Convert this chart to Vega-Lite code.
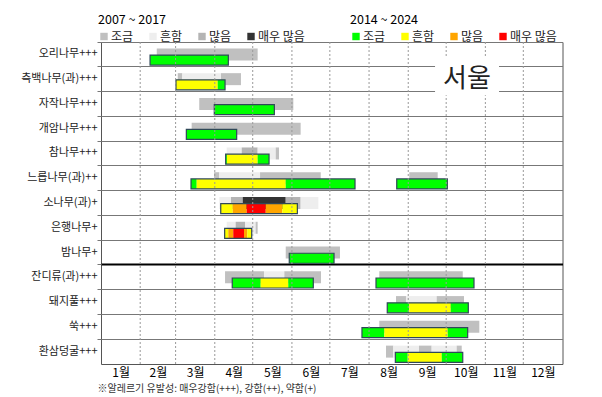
{
  "$schema": "https://vega.github.io/schema/vega-lite/v6.json",
  "autosize": {"type": "none"},
  "padding": {"left": 101, "top": 42, "right": 39.5, "bottom": 33},
  "width": 461.5,
  "height": 322,
  "background": "white",
  "config": {"font": "Noto Sans CJK KR", "view": {"stroke": "#555555", "strokeWidth": 1}},
  "datasets": {
    "old": [
      {"species": "오리나무+++", "level": "조금", "start": 44.1, "end": 123.9},
      {"species": "측백나무(과)+++", "level": "조금", "start": 60.7, "end": 64.3},
      {"species": "측백나무(과)+++", "level": "흔함", "start": 64.3, "end": 94.9},
      {"species": "측백나무(과)+++", "level": "조금", "start": 94.9, "end": 110.7},
      {"species": "자작나무+++", "level": "조금", "start": 77.7, "end": 152.1},
      {"species": "개암나무+++", "level": "조금", "start": 71.7, "end": 157.9},
      {"species": "참나무+++", "level": "흔함", "start": 99.4, "end": 111.3},
      {"species": "참나무+++", "level": "많음", "start": 111.3, "end": 123.9},
      {"species": "참나무+++", "level": "흔함", "start": 123.9, "end": 138.2},
      {"species": "참나무+++", "level": "조금", "start": 138.2, "end": 140.8},
      {"species": "느릅나무(과)++", "level": "조금", "start": 89.4, "end": 93.6},
      {"species": "느릅나무(과)++", "level": "흔함", "start": 93.6, "end": 125.8},
      {"species": "느릅나무(과)++", "level": "조금", "start": 125.8, "end": 173.8},
      {"species": "느릅나무(과)++", "level": "조금", "start": 243.8, "end": 266.3},
      {"species": "소나무(과)+", "level": "흔함", "start": 93.6, "end": 102.8},
      {"species": "소나무(과)+", "level": "많음", "start": 102.8, "end": 112.1},
      {"species": "소나무(과)+", "level": "매우 많음", "start": 112.1, "end": 146.1},
      {"species": "소나무(과)+", "level": "많음", "start": 146.1, "end": 157.9},
      {"species": "소나무(과)+", "level": "흔함", "start": 157.9, "end": 171.9},
      {"species": "은행나무+", "level": "흔함", "start": 99.4, "end": 106.5},
      {"species": "은행나무+", "level": "많음", "start": 106.5, "end": 113.9},
      {"species": "은행나무+", "level": "흔함", "start": 113.9, "end": 122.3},
      {"species": "은행나무+", "level": "조금", "start": 122.3, "end": 123.9},
      {"species": "밤나무+", "level": "조금", "start": 146.1, "end": 189.0},
      {"species": "잔디류(과)+++", "level": "조금", "start": 98.1, "end": 128.9},
      {"species": "잔디류(과)+++", "level": "흔함", "start": 128.9, "end": 145.0},
      {"species": "잔디류(과)+++", "level": "조금", "start": 145.0, "end": 174.0},
      {"species": "잔디류(과)+++", "level": "조금", "start": 220.1, "end": 286.1},
      {"species": "돼지풀+++", "level": "조금", "start": 233.3, "end": 241.2},
      {"species": "돼지풀+++", "level": "흔함", "start": 241.2, "end": 265.5},
      {"species": "돼지풀+++", "level": "조금", "start": 265.5, "end": 287.1},
      {"species": "쑥+++", "level": "조금", "start": 220.1, "end": 299.2},
      {"species": "환삼덩굴+++", "level": "조금", "start": 225.4, "end": 231.2},
      {"species": "환삼덩굴+++", "level": "흔함", "start": 231.2, "end": 251.5},
      {"species": "환삼덩굴+++", "level": "조금", "start": 251.5, "end": 261.5},
      {"species": "환삼덩굴+++", "level": "흔함", "start": 261.5, "end": 281.3},
      {"species": "환삼덩굴+++", "level": "조금", "start": 281.3, "end": 285.3}
    ],
    "new": [
      {"species": "오리나무+++", "bar": 1, "level": "조금", "start": 38.8, "end": 100.7},
      {"species": "측백나무(과)+++", "bar": 1, "level": "흔함", "start": 59.3, "end": 92.3},
      {"species": "측백나무(과)+++", "bar": 1, "level": "조금", "start": 92.3, "end": 98.1},
      {"species": "자작나무+++", "bar": 1, "level": "조금", "start": 89.6, "end": 137.1},
      {"species": "개암나무+++", "bar": 1, "level": "조금", "start": 67.5, "end": 107.3},
      {"species": "참나무+++", "bar": 1, "level": "조금", "start": 98.6, "end": 99.6},
      {"species": "참나무+++", "bar": 1, "level": "흔함", "start": 99.6, "end": 123.9},
      {"species": "참나무+++", "bar": 1, "level": "조금", "start": 123.9, "end": 132.9},
      {"species": "느릅나무(과)++", "bar": 1, "level": "조금", "start": 71.2, "end": 75.7},
      {"species": "느릅나무(과)++", "bar": 1, "level": "흔함", "start": 75.7, "end": 146.1},
      {"species": "느릅나무(과)++", "bar": 1, "level": "조금", "start": 146.1, "end": 200.9},
      {"species": "느릅나무(과)++", "bar": 2, "level": "조금", "start": 233.9, "end": 273.9},
      {"species": "소나무(과)+", "bar": 1, "level": "흔함", "start": 94.7, "end": 104.2},
      {"species": "소나무(과)+", "bar": 1, "level": "많음", "start": 104.2, "end": 115.2},
      {"species": "소나무(과)+", "bar": 1, "level": "매우 많음", "start": 115.2, "end": 130.3},
      {"species": "소나무(과)+", "bar": 1, "level": "많음", "start": 130.3, "end": 143.4},
      {"species": "소나무(과)+", "bar": 1, "level": "흔함", "start": 143.4, "end": 155.3},
      {"species": "은행나무+", "bar": 1, "level": "흔함", "start": 97.8, "end": 100.7},
      {"species": "은행나무+", "bar": 1, "level": "많음", "start": 100.7, "end": 104.6},
      {"species": "은행나무+", "bar": 1, "level": "매우 많음", "start": 104.6, "end": 113.1},
      {"species": "은행나무+", "bar": 1, "level": "많음", "start": 113.1, "end": 115.7},
      {"species": "은행나무+", "bar": 1, "level": "흔함", "start": 115.7, "end": 119.2},
      {"species": "밤나무+", "bar": 1, "level": "조금", "start": 148.9, "end": 184.3},
      {"species": "잔디류(과)+++", "bar": 1, "level": "조금", "start": 103.8, "end": 126.3},
      {"species": "잔디류(과)+++", "bar": 1, "level": "흔함", "start": 126.3, "end": 148.1},
      {"species": "잔디류(과)+++", "bar": 1, "level": "조금", "start": 148.1, "end": 167.9},
      {"species": "잔디류(과)+++", "bar": 2, "level": "조금", "start": 217.5, "end": 295.0},
      {"species": "돼지풀+++", "bar": 1, "level": "조금", "start": 226.4, "end": 243.8},
      {"species": "돼지풀+++", "bar": 1, "level": "흔함", "start": 243.8, "end": 276.6},
      {"species": "돼지풀+++", "bar": 1, "level": "조금", "start": 276.6, "end": 290.5},
      {"species": "쑥+++", "bar": 1, "level": "조금", "start": 206.4, "end": 224.1},
      {"species": "쑥+++", "bar": 1, "level": "흔함", "start": 224.1, "end": 274.2},
      {"species": "쑥+++", "bar": 1, "level": "조금", "start": 274.2, "end": 290.0},
      {"species": "환삼덩굴+++", "bar": 1, "level": "조금", "start": 232.8, "end": 242.6},
      {"species": "환삼덩굴+++", "bar": 1, "level": "흔함", "start": 242.6, "end": 269.5},
      {"species": "환삼덩굴+++", "bar": 1, "level": "조금", "start": 269.5, "end": 286.1}
    ],
    "bounds": [
      {"d": 31}, {"d": 59}, {"d": 90}, {"d": 120}, {"d": 151}, {"d": 181},
      {"d": 212}, {"d": 243}, {"d": 273}, {"d": 304}, {"d": 334}
    ],
    "label": [
      {"species": "측백나무(과)+++", "text": "서울", "start": 264.2, "end": 314.8, "mid": 289.5}
    ]
  },
  "layer": [
    {
      "data": {"name": "old"},
      "mark": {"type": "bar", "height": 12},
      "encoding": {
        "y": {
          "field": "species", "type": "nominal",
          "scale": {"domain": ["오리나무+++", "측백나무(과)+++", "자작나무+++", "개암나무+++", "참나무+++", "느릅나무(과)++", "소나무(과)+", "은행나무+", "밤나무+", "잔디류(과)+++", "돼지풀+++", "쑥+++", "환삼덩굴+++"], "paddingInner": 0, "paddingOuter": 0},
          "axis": {"title": null, "ticks": false, "domain": false, "grid": false, "labelFontSize": 11, "labelColor": "#222222", "labelPadding": 4}
        },
        "x": {
          "field": "start", "type": "quantitative",
          "scale": {"domain": [0, 365], "nice": false, "zero": false},
          "axis": {
            "values": [15.5, 45, 74.5, 105, 135.5, 166, 196.5, 227.5, 258, 288.5, 319, 349.5],
            "labelExpr": "(indexof([15.5,45,74.5,105,135.5,166,196.5,227.5,258,288.5,319,349.5], datum.value) + 1) + '월'",
            "grid": false, "ticks": false, "domain": false,
            "labelFontSize": 12, "labelColor": "#000000", "labelPadding": 3,
            "title": "※알레르기 유발성: 매우강함(+++), 강함(++), 약함(+)",
            "titleAnchor": "start", "titleAlign": "left", "titleX": -4, "titleY": 24,
            "titleBaseline": "middle", "titleFontSize": 10, "titleFontWeight": "normal", "titleColor": "#333333"
          }
        },
        "x2": {"field": "end"},
        "color": {
          "field": "level", "type": "nominal",
          "scale": {"domain": ["조금", "흔함", "많음", "매우 많음"], "range": ["#c0c0c0", "#eeeeee", "#b4b4b4", "#333333"]},
          "legend": {
            "title": "2007 ~ 2017", "orient": "none", "legendX": -3, "legendY": -28, "direction": "horizontal",
            "titleFontSize": 12.5, "titleFontWeight": "normal", "titleColor": "#000000", "titlePadding": 4,
            "labelFontSize": 12, "labelColor": "#222222", "labelOffset": 1,
            "symbolType": "square", "symbolSize": 55, "symbolStrokeWidth": 0, "columnPadding": 13
          }
        }
      }
    },
    {
      "data": {"name": "new"},
      "mark": {"type": "bar", "height": 10, "yOffset": 5.7},
      "encoding": {
        "y": {"field": "species", "type": "nominal", "scale": {"domain": ["오리나무+++", "측백나무(과)+++", "자작나무+++", "개암나무+++", "참나무+++", "느릅나무(과)++", "소나무(과)+", "은행나무+", "밤나무+", "잔디류(과)+++", "돼지풀+++", "쑥+++", "환삼덩굴+++"], "paddingInner": 0, "paddingOuter": 0}, "axis": null},
        "x": {"field": "start", "type": "quantitative"},
        "x2": {"field": "end"},
        "color": {
          "field": "level", "type": "nominal",
          "scale": {"domain": ["조금", "흔함", "많음", "매우 많음"], "range": ["#00ff00", "#ffff00", "#ffa500", "#ff0000"]},
          "legend": {
            "title": "2014 ~ 2024", "orient": "none", "legendX": 249, "legendY": -28, "direction": "horizontal",
            "titleFontSize": 12.5, "titleFontWeight": "normal", "titleColor": "#000000", "titlePadding": 4,
            "labelFontSize": 12, "labelColor": "#222222", "labelOffset": 1,
            "symbolType": "square", "symbolSize": 55, "symbolStrokeWidth": 0, "columnPadding": 13
          }
        }
      }
    },
    {
      "data": {"name": "new"},
      "transform": [
        {"aggregate": [{"op": "min", "field": "start", "as": "start"}, {"op": "max", "field": "end", "as": "end"}], "groupby": ["species", "bar"]}
      ],
      "mark": {"type": "bar", "height": 10, "yOffset": 5.7, "filled": false, "stroke": "#2f4858", "strokeWidth": 1.2},
      "encoding": {
        "y": {
          "field": "species", "type": "nominal",
          "scale": {"domain": ["오리나무+++", "측백나무(과)+++", "자작나무+++", "개암나무+++", "참나무+++", "느릅나무(과)++", "소나무(과)+", "은행나무+", "밤나무+", "잔디류(과)+++", "돼지풀+++", "쑥+++", "환삼덩굴+++"], "paddingInner": 0, "paddingOuter": 0},
          "axis": {
            "orient": "left", "bandPosition": 0, "title": null, "labels": false, "domain": false,
            "ticks": true, "tickSize": 4, "tickColor": "#777777",
            "grid": true,
            "gridColor": {"condition": {"test": "datum.value === '잔디류(과)+++'", "value": "#000000"}, "value": "#777777"},
            "gridWidth": {"condition": {"test": "datum.value === '잔디류(과)+++'", "value": 2}, "value": 1.2},
            "gridOpacity": 1
          }
        },
        "x": {"field": "start", "type": "quantitative"},
        "x2": {"field": "end"}
      }
    },
    {
      "data": {"name": "bounds"},
      "mark": {"type": "rule", "strokeDash": [2, 2], "color": "#999999", "strokeWidth": 1},
      "encoding": {"x": {"field": "d", "type": "quantitative"}}
    },
    {
      "data": {"name": "label"},
      "mark": {"type": "bar", "height": 38, "yOffset": -3, "color": "#ffffff"},
      "encoding": {
        "y": {"field": "species", "type": "nominal", "scale": {"domain": ["오리나무+++", "측백나무(과)+++", "자작나무+++", "개암나무+++", "참나무+++", "느릅나무(과)++", "소나무(과)+", "은행나무+", "밤나무+", "잔디류(과)+++", "돼지풀+++", "쑥+++", "환삼덩굴+++"], "paddingInner": 0, "paddingOuter": 0}, "axis": null},
        "x": {"field": "start", "type": "quantitative"},
        "x2": {"field": "end"}
      }
    },
    {
      "data": {"name": "label"},
      "mark": {"type": "text", "fontSize": 26, "align": "center", "baseline": "middle", "color": "#222222"},
      "encoding": {
        "y": {"field": "species", "type": "nominal", "scale": {"domain": ["오리나무+++", "측백나무(과)+++", "자작나무+++", "개암나무+++", "참나무+++", "느릅나무(과)++", "소나무(과)+", "은행나무+", "밤나무+", "잔디류(과)+++", "돼지풀+++", "쑥+++", "환삼덩굴+++"], "paddingInner": 0, "paddingOuter": 0}, "axis": null},
        "x": {"field": "mid", "type": "quantitative"},
        "text": {"field": "text"}
      }
    }
  ],
  "resolve": {"scale": {"color": "independent"}, "axis": {"y": "independent"}}
}
